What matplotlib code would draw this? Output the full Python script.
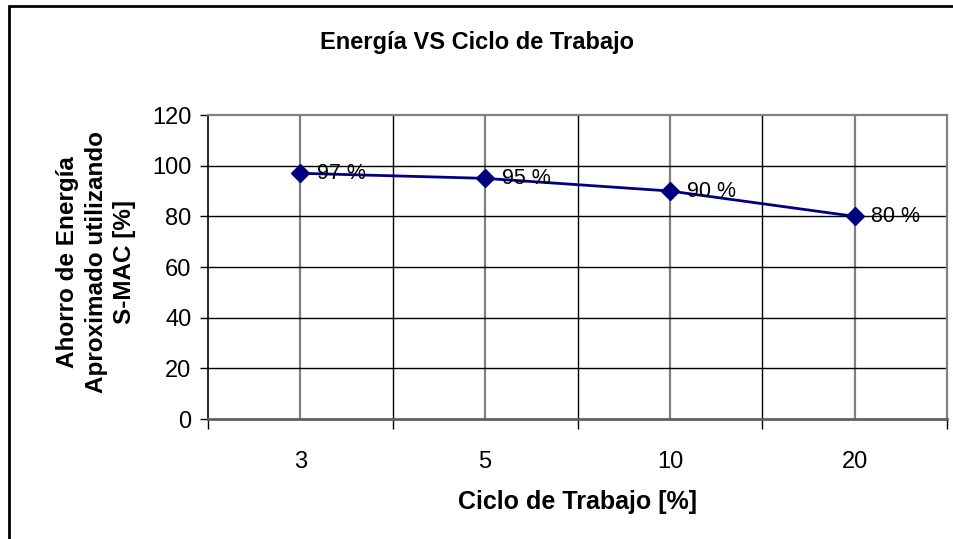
import matplotlib.pyplot as plt
import numpy as np

plt.rcParams['font.family'] = ['Liberation Sans', 'DejaVu Sans']

# data
ciclos = ['3', '5', '10', '20']
ahorro = [97, 95, 90, 80]
etiquetas = ['97 %', '95 %', '90 %', '80 %']
y_ticks = [0, 20, 40, 60, 80, 100, 120]

fig = plt.figure(figsize=(9.54, 5.39), dpi=100)
ax = fig.add_axes([0.218, 0.2226, 0.7747, 0.564])

x = np.arange(len(ciclos))

# grid: gray lines on categories, black lines between them
for xi in x:
    ax.axvline(xi, color='#808080', lw=1.6, zorder=1)
for xb in np.arange(-0.5, len(ciclos) - 0.5, 1.0)[1:]:
    ax.axvline(xb, color='black', lw=1.0, zorder=1)
for yv in y_ticks[1:-1]:
    ax.axhline(yv, color='black', lw=1.0, zorder=1)

ax.plot(x, ahorro, color='#000080', lw=2, marker='D', markersize=9, zorder=3)

# data labels
for xi, yv, lab in zip(x, ahorro, etiquetas):
    ax.annotate(lab, (xi, yv), xytext=(12, 0), textcoords='offset points',
                va='center', ha='left', fontsize=15.5, zorder=4)

ax.set_xlim(-0.5, len(ciclos) - 0.5)
ax.set_ylim(0, 120)
ax.set_yticks(y_ticks)
ax.tick_params(axis='y', labelsize=17, length=6, width=1, pad=6, color='black')

ax.set_xticks(np.arange(-0.5, len(ciclos), 1.0))
ax.set_xticklabels([])
ax.tick_params(axis='x', which='major', length=7, width=1, color='black')
ax.set_xticks(x, minor=True)
ax.set_xticklabels(ciclos, minor=True)
ax.tick_params(axis='x', which='minor', length=0, labelsize=17, pad=23)

for side in ['top', 'right']:
    ax.spines[side].set_color('#808080')
    ax.spines[side].set_linewidth(1.6)
ax.spines['left'].set_color('black')
ax.spines['left'].set_linewidth(1.2)
ax.spines['bottom'].set_color('#606060')
ax.spines['bottom'].set_linewidth(2)

ax.set_xlabel('Ciclo de Trabajo [%]', fontsize=18, fontweight='bold', labelpad=12)
fig.text(0.101, 0.514, 'Ahorro de Energía\nAproximado utilizando\nS-MAC [%]',
         rotation=90, ha='center', va='center', fontsize=17.5, fontweight='bold',
         linespacing=1.3)
fig.text(0.5, 0.922, 'Energía VS Ciclo de Trabajo', ha='center', va='center',
         fontsize=17, fontweight='bold')

# chart border
border = plt.Rectangle((0.009, -0.05), 1.1, 1.039, transform=fig.transFigure,
                       fill=False, edgecolor='black', lw=2)
fig.patches.append(border)

fig.savefig('out.png', dpi=100)
